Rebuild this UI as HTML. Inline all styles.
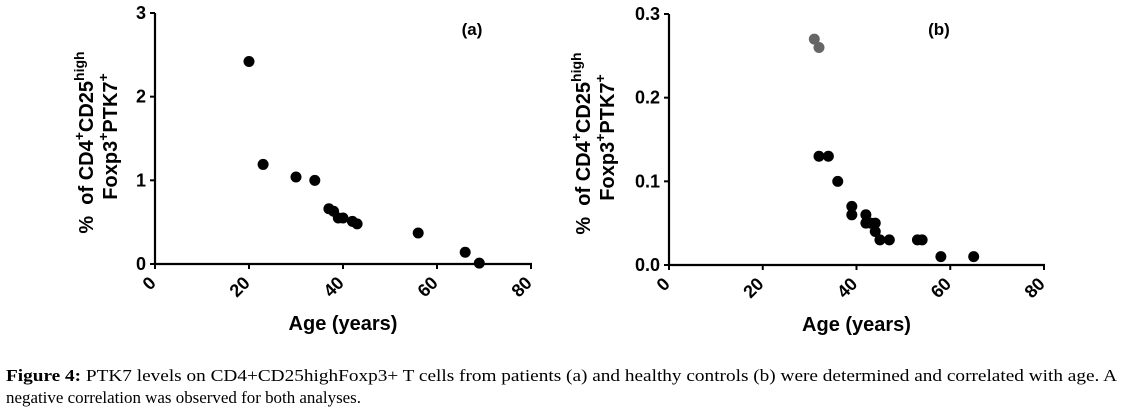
<!DOCTYPE html>
<html><head><meta charset="utf-8"><style>
html,body{margin:0;padding:0;background:#fff;width:1124px;height:410px;overflow:hidden}
svg text{font-family:"Liberation Sans",Arial,sans-serif}
</style></head><body>
<svg id="fig" width="1124" height="410" viewBox="0 0 1124 410" xmlns="http://www.w3.org/2000/svg">
<g id="chartA"></g>
<g id="chartB"></g>
<text x="6" y="381" font-size="16.5" textLength="1111" lengthAdjust="spacingAndGlyphs" style="font-family:'Liberation Serif',serif"><tspan font-weight="bold">Figure 4:</tspan> PTK7 levels on CD4+CD25highFoxp3+ T cells from patients (a) and healthy controls (b) were determined and correlated with age. A</text>
<text x="6" y="403" font-size="16.5" textLength="355" lengthAdjust="spacingAndGlyphs" style="font-family:'Liberation Serif',serif">negative correlation was observed for both analyses.</text>
</svg>
<script>
const xTicks = [0, 20, 40, 60, 80];
const aAges = [20, 23, 30, 34, 37, 38, 39, 40, 42, 43, 56, 66, 69];
const aVals = [2.42, 1.19, 1.04, 1.0, 0.66, 0.63, 0.55, 0.55, 0.51, 0.48, 0.37, 0.14, 0.01];
const aYTicks = [0, 1, 2, 3];
const aYLabels = ["0", "1", "2", "3"];
const bGrayAges = [31, 32];
const bGrayVals = [0.27, 0.26];
const bAges = [32, 34, 36, 39, 39, 42, 42, 43, 44, 44, 45, 47, 53, 54, 58, 65];
const bVals = [0.13, 0.13, 0.10, 0.07, 0.06, 0.06, 0.05, 0.05, 0.05, 0.04, 0.03, 0.03, 0.03, 0.03, 0.01, 0.01];
const bYTicks = [0, 0.1, 0.2, 0.3];
const bYLabels = ["0.0", "0.1", "0.2", "0.3"];

const NS = "http://www.w3.org/2000/svg";
function mk(parent, tag, attrs, txt) {
  const e = document.createElementNS(NS, tag);
  for (const k in attrs) e.setAttribute(k, attrs[k]);
  if (txt !== undefined) e.textContent = txt;
  parent.appendChild(e);
  return e;
}
function drawChart(g, o) {
  const sx = v => o.x0 + (v - 0) / 80 * (o.x1 - o.x0);
  const sy = v => o.y0 - v / o.ymax * (o.y0 - o.y1);
  let e;
  e = mk(g, "line", {x1: o.x0, y1: o.y1, x2: o.x0, y2: o.y0 + 1, stroke: "#000", "stroke-width": 2.2});
  
  
  e = mk(g, "line", {x1: o.x0 - 1, y1: o.y0, x2: o.x1 + 1, y2: o.y0, stroke: "#000", "stroke-width": 2.2});
  
  
  o.yTicks.forEach((t, i) => {
    const y = sy(t);
    mk(g, "line", {x1: o.x0 - 5, y1: y, x2: o.x0, y2: y, stroke: "#000", "stroke-width": 2});
    e = mk(g, "text", {x: o.x0 - 9, y: y + 6, "text-anchor": "end", "font-size": 18, "font-weight": "bold"}, o.yLabels[i]);
    
    
  });
  xTicks.forEach(t => {
    const x = sx(t);
    mk(g, "line", {x1: x, y1: o.y0, x2: x, y2: o.y0 + 5, stroke: "#000", "stroke-width": 2});
    const ax = x + 2, ay = o.y0 + 20;
    e = mk(g, "text", {x: ax, y: ay, "text-anchor": "end", "font-size": 18, "font-weight": "bold",
      transform: `rotate(-45 ${ax} ${ay})`}, String(t));
    
    
  });
  e = mk(g, "text", {x: (o.x0 + o.x1) / 2, y: o.y0 + 66, "text-anchor": "middle", "font-size": 20, "font-weight": "bold"}, "Age (years)");
  
  
  const cy = (o.y0 + o.y1) / 2 + 4;
  e = mk(g, "text", {transform: `translate(${o.tx1} ${cy}) rotate(-90)`, "text-anchor": "middle", "font-size": 20, "font-weight": "bold"});
  e.innerHTML = '%&#160; of CD4<tspan dy="-9" font-size="14">+</tspan><tspan dy="9">CD25</tspan><tspan dy="-9" font-size="14">high</tspan>';
  
  
  e = mk(g, "text", {transform: `translate(${o.tx1 + 24} ${cy - 6}) rotate(-90)`, "text-anchor": "middle", "font-size": 20, "font-weight": "bold"});
  e.innerHTML = 'Foxp3<tspan dy="-9" font-size="14">+</tspan><tspan dy="9">PTK7</tspan><tspan dy="-9" font-size="14">+</tspan>';
  
  
  e = mk(g, "text", {x: o.lx, y: 35, "text-anchor": "middle", "font-size": 17, "font-weight": "bold"}, o.label);
  
  
  o.series.forEach(s => {
    s.x.forEach((v, i) => {
      const c = mk(g, "circle", {cx: sx(v), cy: sy(s.y[i]), r: 5.5, fill: s.color});
      
      
    });
  });
}
drawChart(document.getElementById("chartA"), {x0: 155, x1: 531, y0: 264, y1: 13, ymax: 3,
  yTicks: aYTicks, yLabels: aYLabels, tx1: 93, lx: 472, label: "(a)",
  series: [{x: aAges, y: aVals, color: "#000"}]});
drawChart(document.getElementById("chartB"), {x0: 669, x1: 1044, y0: 265, y1: 14, ymax: 0.3,
  yTicks: bYTicks, yLabels: bYLabels, tx1: 590, lx: 939, label: "(b)",
  series: [{x: bGrayAges, y: bGrayVals, color: "#666"}, {x: bAges, y: bVals, color: "#000"}]});
</script>
</body></html>
